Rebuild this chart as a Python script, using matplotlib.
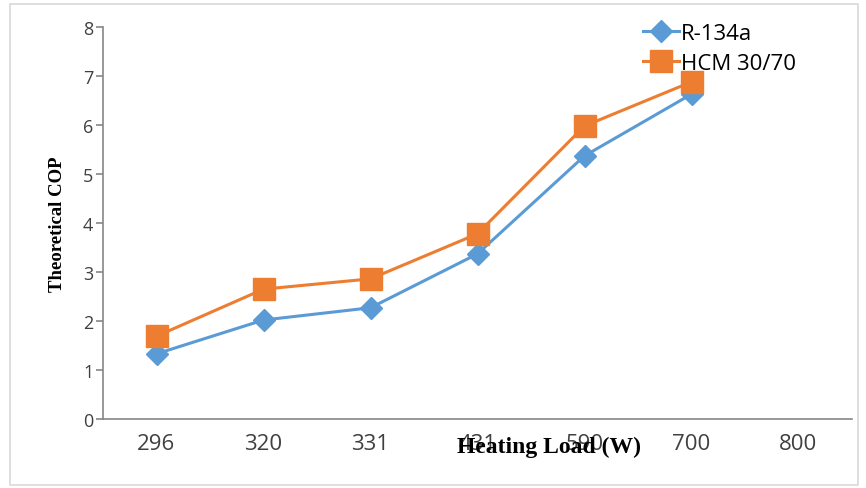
import numpy as np
import matplotlib.pyplot as plt
from matplotlib.patches import Rectangle

# Datos
cargas = ['296', '320', '331', '431', '590', '700', '800']
cop_r134a = [1.33, 2.02, 2.27, 3.37, 5.37, 6.63, np.nan]
cop_hcm = [1.69, 2.65, 2.86, 3.78, 5.98, 6.88, np.nan]

color_azul = '#5B9BD5'
color_naranja = '#ED7D31'
gris = '#868686'

fig = plt.figure(figsize=(8.66, 4.89), dpi=100)
ax = fig.add_axes([103 / 866, 1 - 420 / 489, 749 / 866, 392 / 489])

x = np.arange(len(cargas))
ax.plot(x, cop_r134a, color=color_azul, lw=2.2, marker='D', ms=11, label='R-134a')
ax.plot(x, cop_hcm, color=color_naranja, lw=2.2, marker='s', ms=16, label='HCM 30/70')

ax.set_xlim(-0.5, len(cargas) - 0.5)
ax.set_ylim(0, 8)
ax.set_xticks(x)
ax.set_xticklabels(cargas)
ax.set_yticks(range(0, 9))

for s in ['top', 'right']:
    ax.spines[s].set_visible(False)
for s in ['left', 'bottom']:
    ax.spines[s].set_color(gris)
    ax.spines[s].set_linewidth(1.2)

ax.tick_params(axis='y', colors=gris, length=5, width=1.2, labelsize=13, labelcolor='#404040', pad=2)
ax.tick_params(axis='x', length=0, labelsize=16, labelcolor='#404040', pad=10)
for lab in ax.get_xticklabels() + ax.get_yticklabels():
    lab.set_family('Open Sans')

ax.set_ylabel('Theoretical COP', family='Liberation Serif', fontweight='bold', fontsize=13.5, labelpad=12)
# la etiqueta del eje x se superpone a los ticks en el original
fig.text(549 / 866, 1 - 447 / 489, 'Heating Load (W)', family='Liberation Serif',
         fontweight='bold', fontsize=17, ha='center', va='center')

leg = ax.legend(loc='upper left', bbox_to_anchor=(643 / 866, 1 - 24 / 489),
                bbox_transform=fig.transFigure, frameon=False,
                prop={'family': 'Open Sans', 'size': 16}, labelspacing=0.4,
                handlelength=1.6, handletextpad=0.1, borderaxespad=0, borderpad=0)

fig.patches.append(Rectangle((10 / 866, 1 - 486 / 489), 848 / 866, 481 / 489,
                             transform=fig.transFigure, fill=False,
                             edgecolor='#D9D9D9', lw=1.2))

fig.savefig('out.png', dpi=100)
